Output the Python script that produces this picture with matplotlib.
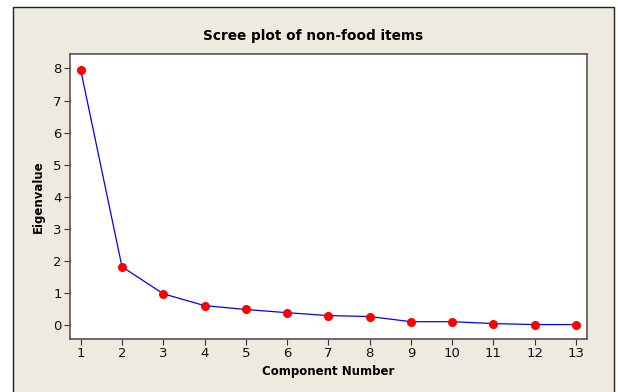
import matplotlib
matplotlib.use("Agg")
import matplotlib.pyplot as plt
from matplotlib.patches import Rectangle

components = list(range(1, 14))
eigenvalues = [7.95, 1.82, 0.98, 0.61, 0.49, 0.39, 0.30, 0.27, 0.11, 0.11, 0.05, 0.02, 0.02]
yticks = [0, 1, 2, 3, 4, 5, 6, 7, 8]

plt.rcParams['font.family'] = ['DejaVu Sans']

W, H = 618, 392
fig = plt.figure(figsize=(W / 100, H / 100), dpi=100, facecolor="white")
bg = "#EEEAE0"
frame = Rectangle((13 / W, -0.05), (614 - 13) / W, 1 - 7 / H + 0.05,
                  transform=fig.transFigure, facecolor=bg, edgecolor="#222222",
                  linewidth=1.0, zorder=-10)
fig.add_artist(frame)

ax = fig.add_axes([70 / W, 1 - 339 / H, (587 - 70) / W, (339 - 54) / H])
ax.set_zorder(5)
ax.set_facecolor("white")
ax.plot(components, eigenvalues, color="#0000FF", lw=0.9, zorder=2)
ax.plot(components, eigenvalues, "o", color="#FF0000", ms=5.5, mec="#FF0000", zorder=3)

ax.set_xlim(0.74, 13.27)
ax.set_ylim(-0.43, 8.45)
ax.set_xticks(components)
ax.set_yticks(yticks)
for s in ax.spines.values():
    s.set_color("#555555")
    s.set_linewidth(1.2)
ax.tick_params(direction="out", length=4, width=0.8, color="#333333",
               labelsize=9.5, pad=2, labelcolor="#111111")

ax.set_xlabel("Component Number", fontsize=8.5, fontweight="bold", labelpad=3)
ax.set_ylabel("Eigenvalue", fontsize=8.5, fontweight="bold", labelpad=6)
fig.text(313.5 / W, 1 - 36 / H, "Scree plot of non-food items", ha="center", va="center",
         fontsize=9.8, fontweight="bold")

fig.savefig("out.png", dpi=100, facecolor="white")
